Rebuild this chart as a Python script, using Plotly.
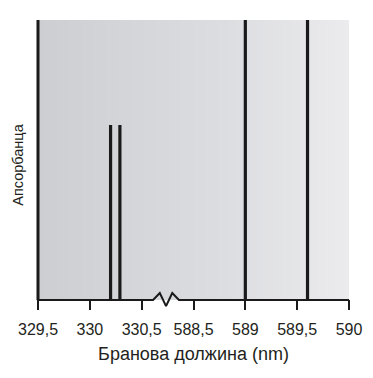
import numpy as np
import plotly.graph_objects as go

# Data
line_wavelengths = [330.20, 330.29, 589.0, 589.6]   # nm
line_absorbance = [0.625, 0.625, 1.0, 1.0]           # relative
tick_labels = ["329,5", "330", "330,5", "588,5", "589", "589,5", "590"]
x_title = "Бранова должина (nm)"
y_title = "Апсорбанца"

# broken axis: two segments, each 0.5 nm -> 1 axis unit
def to_axis(w):
    if w < 400:
        return (w - 329.5) / 0.5
    return 3 + (w - 588.5) / 0.5

tick_vals = list(range(len(tick_labels)))
x_max = tick_vals[-1]
ppu_x = 311 / x_max
ppu_y = 280
pad_x = 3 / ppu_x
pad_y = 10 / ppu_y

fig = go.Figure()

# gradient background
n = 200
xs = np.linspace(0, x_max, n + 1)
fig.add_trace(go.Heatmap(
    x=xs, y=[0, 1], z=[list(range(n))],
    colorscale=[[0, "#cdced1"], [0.6, "#dcdde0"], [1, "#ebebed"]],
    showscale=False, hoverinfo="skip"))

# spectral lines
for w, a in zip(line_wavelengths, line_absorbance):
    xa = to_axis(w)
    fig.add_trace(go.Scatter(x=[xa, xa], y=[0, a], mode="lines",
                             line=dict(color="#1a1a1a", width=3.2),
                             hoverinfo="skip", showlegend=False))

# left axis line
fig.add_trace(go.Scatter(x=[0, 0], y=[0, 1], mode="lines",
                         line=dict(color="#1a1a1a", width=3),
                         hoverinfo="skip", showlegend=False))

# bottom axis with break zigzag
bx = 2.47
zx = [-0.02, bx - 0.25, bx - 0.12, bx, bx + 0.12, bx + 0.25, x_max]
zy = [0, 0, 0.025, -0.022, 0.025, 0, 0]
fig.add_trace(go.Scatter(x=zx, y=zy, mode="lines",
                         line=dict(color="#1a1a1a", width=2),
                         hoverinfo="skip", showlegend=False))

font = "Liberation Sans, Arial, sans-serif"
fig.update_layout(
    width=373, height=378,
    margin=dict(l=38 - pad_x * ppu_x, r=373 - 349 - pad_x * ppu_x,
                t=20, b=378 - 310),
    paper_bgcolor="white", plot_bgcolor="white",
    showlegend=False,
    font=dict(family=font, size=16, color="#231f20"),
    xaxis=dict(range=[-pad_x, x_max + pad_x], tickvals=tick_vals, ticktext=tick_labels,
               ticks="inside", ticklen=10, tickwidth=1.5,
               tickcolor="#1a1a1a", automargin=False,
               showgrid=False, zeroline=False, showline=False,
               tickfont=dict(size=16), ticklabelstandoff=8,
               title=dict(text=x_title, font=dict(size=18), standoff=10)),
    yaxis=dict(range=[-pad_y, 1], showticklabels=False, ticks="", automargin=False,
               showgrid=False, zeroline=False, showline=False,
               title=dict(text=y_title, font=dict(size=14.5), standoff=6)),
)

fig.write_html("out.html", config={"displayModeBar": False},
               post_script="document.body.style.margin='0';")
